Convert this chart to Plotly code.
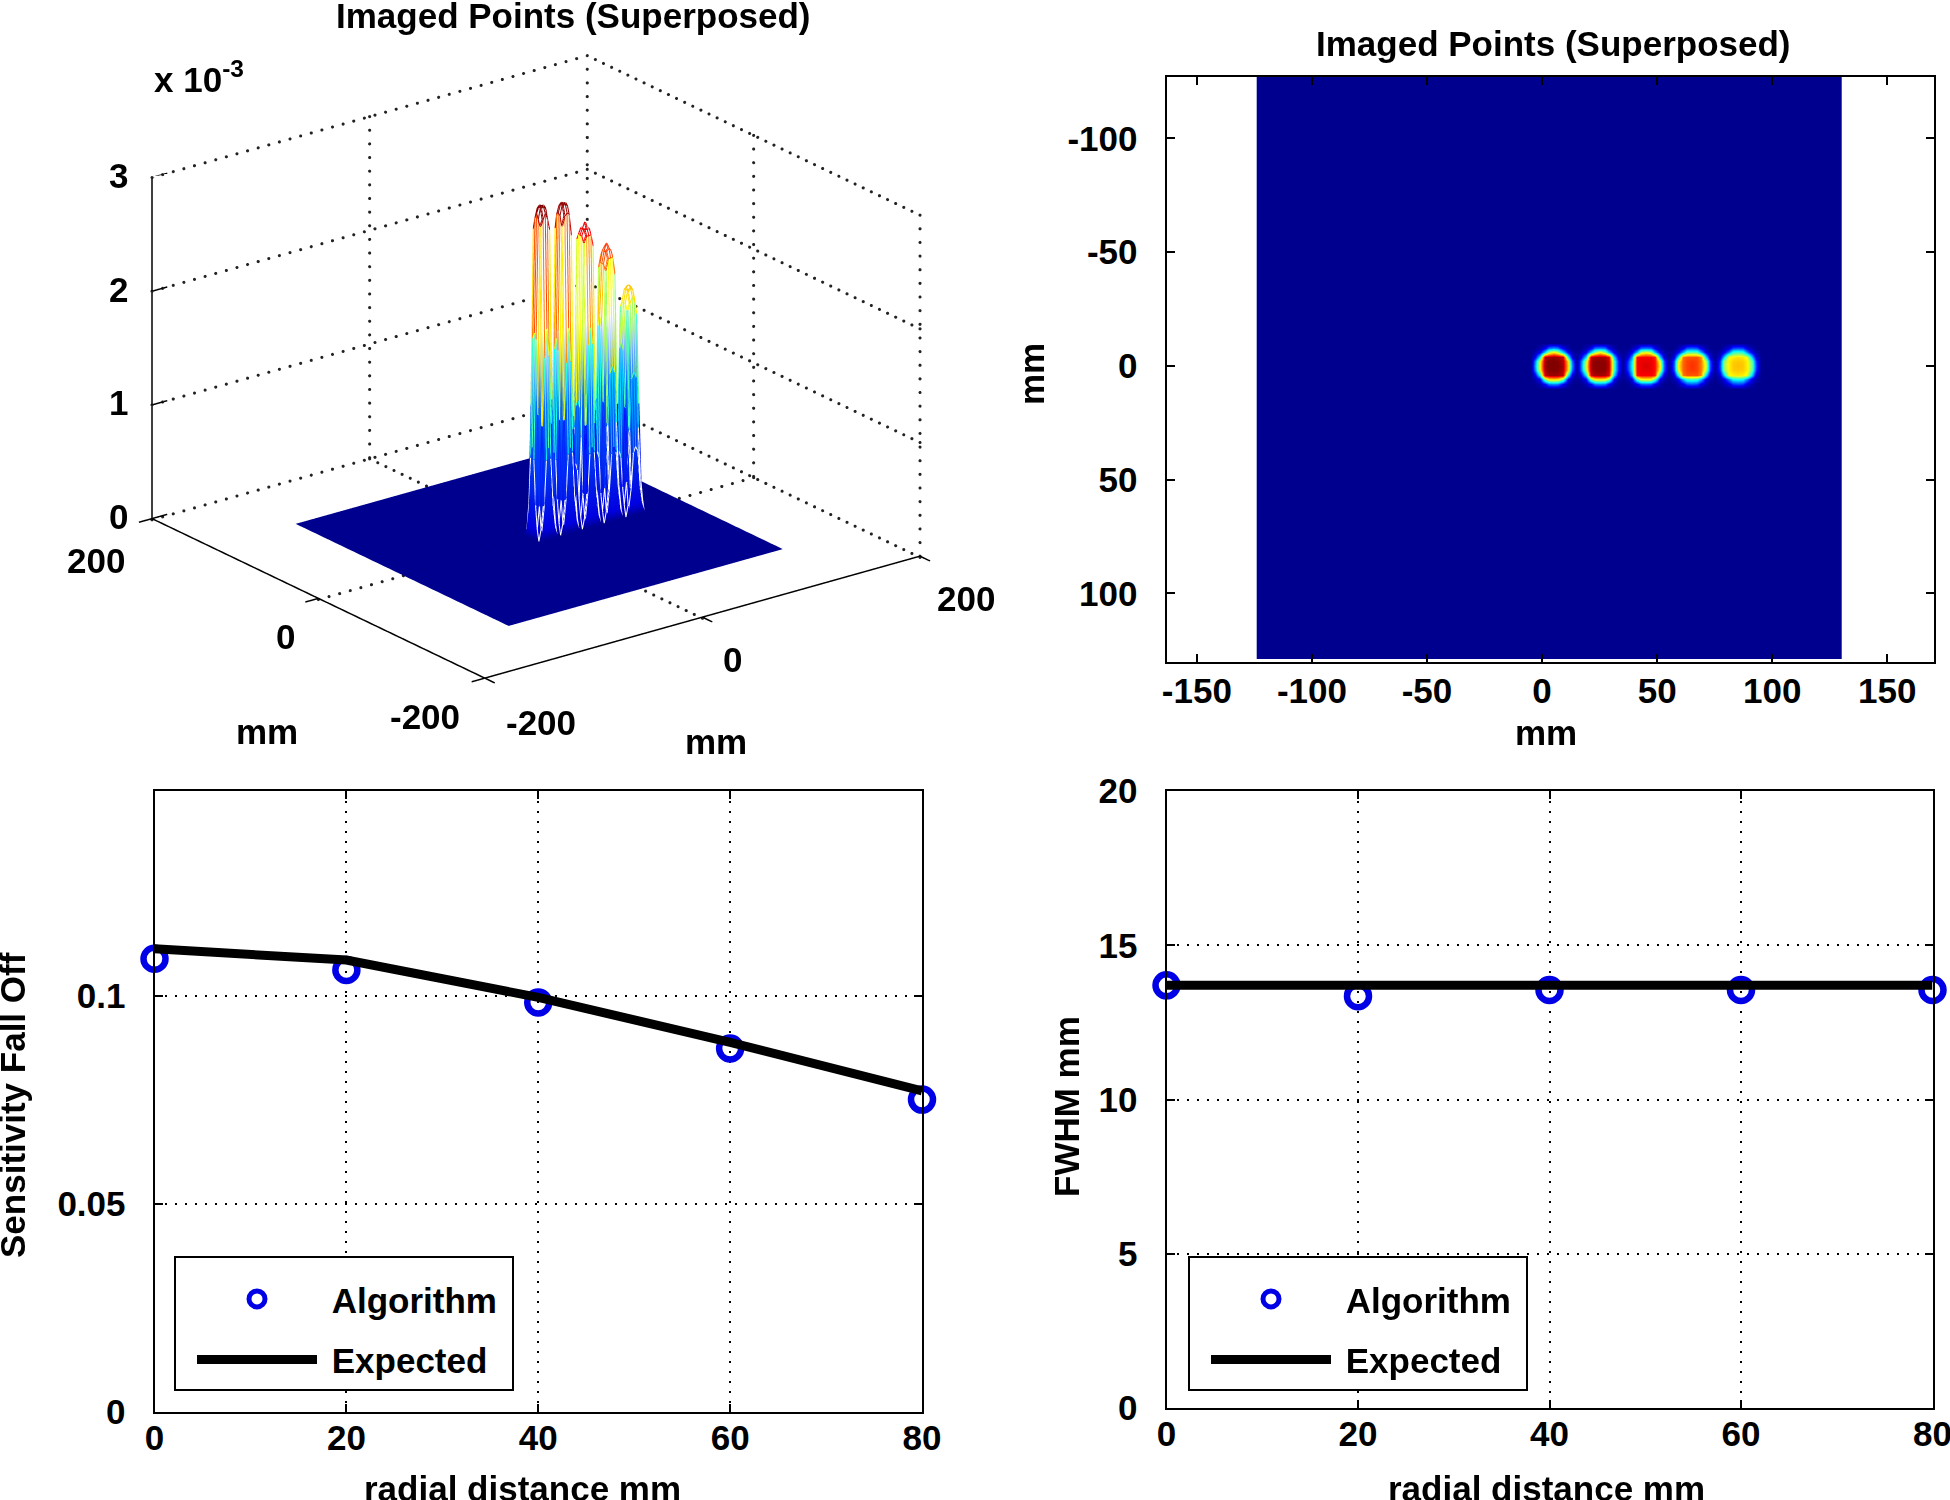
import numpy as np
import plotly.graph_objects as go

W, H = 1960, 1500  # a little wider than the window so the last "80" label is not dropped
FONT = "Liberation Sans"
JET = [[0, "#00008f"], [0.125, "#0000ff"], [0.375, "#00ffff"], [0.5, "#80ff80"],
       [0.625, "#ffff00"], [0.75, "#ff8000"], [0.875, "#ff0000"], [1, "#800000"]]
# mesh edges on the spikes: white low down, jet above
EDGE_SCALE = [[0, "#ffffff"], [0.2, "#ffffff"], [0.2, "#0000ff"], [0.375, "#00ffff"], [0.5, "#80ff80"],
              [0.625, "#ffff00"], [0.75, "#ff8000"], [0.875, "#ff0000"], [1, "#800000"]]
# faces of the spikes: floor blue, then blue rising to white near the top
SKIN_SCALE = [[0, "#00008f"], [0.03, "#0000e0"], [0.4, "#0070ff"], [0.62, "#ffffff"], [1, "#ffffff"]]

# bottom panels
radial = [0, 20, 40, 60, 80]
falloff_algorithm = [0.1090, 0.1063, 0.0985, 0.0874, 0.0751]
falloff_expected = [0.1114, 0.1087, 0.0997, 0.0889, 0.0772]
fwhm_algorithm = [13.7, 13.35, 13.55, 13.55, 13.55]
fwhm_expected = [13.7, 13.7, 13.7, 13.7, 13.7]

# imaged points, values in units of 1e-3, 2 mm cells
spot_x = [5, 25, 45, 65, 85]
spot_1 = [[0.0, 0.1, 0.3, 0.7, 0.8, 0.7, 0.3, 0.1, 0.0],
          [0.1, 0.3, 1.0, 1.6, 1.85, 1.6, 1.0, 0.35, 0.1],
          [0.3, 1.1, 2.75, 2.8, 2.85, 2.8, 2.7, 1.2, 0.3],
          [0.7, 1.75, 2.8, 2.9, 2.9, 2.88, 2.75, 1.9, 0.7],
          [0.8, 1.8, 2.85, 2.9, 2.9, 2.9, 2.8, 1.95, 0.8],
          [0.7, 1.75, 2.8, 2.88, 2.9, 2.88, 2.75, 1.9, 0.7],
          [0.3, 1.15, 2.7, 2.8, 2.82, 2.8, 2.7, 1.2, 0.3],
          [0.1, 0.35, 1.5, 1.9, 1.95, 1.9, 1.5, 0.35, 0.1],
          [0.0, 0.1, 0.35, 0.7, 0.75, 0.7, 0.35, 0.1, 0.0]]
spot_2 = [[0.0, 0.1, 0.3, 0.7, 0.75, 0.7, 0.3, 0.1, 0.0],
          [0.1, 0.3, 1.0, 1.5, 1.8, 1.5, 0.9, 0.3, 0.1],
          [0.3, 1.0, 2.7, 2.78, 2.8, 2.78, 2.6, 1.0, 0.3],
          [0.65, 1.6, 2.78, 2.87, 2.87, 2.85, 2.7, 1.3, 0.5],
          [0.7, 1.7, 2.8, 2.87, 2.87, 2.87, 2.72, 1.3, 0.5],
          [0.65, 1.6, 2.78, 2.85, 2.87, 2.85, 2.7, 1.3, 0.5],
          [0.3, 1.05, 2.65, 2.78, 2.8, 2.78, 2.6, 1.0, 0.3],
          [0.1, 0.35, 1.5, 1.85, 1.9, 1.85, 1.5, 0.35, 0.1],
          [0.0, 0.1, 0.35, 0.7, 0.75, 0.7, 0.35, 0.1, 0.0]]
spot_3 = [[0.0, 0.1, 0.3, 0.65, 0.7, 0.65, 0.3, 0.1, 0.0],
          [0.1, 0.3, 0.9, 1.6, 1.75, 1.6, 0.9, 0.3, 0.1],
          [0.25, 0.8, 2.5, 2.55, 2.55, 2.55, 2.45, 1.0, 0.25],
          [0.5, 1.05, 2.55, 2.6, 2.6, 2.6, 2.5, 1.7, 0.6],
          [0.55, 1.1, 2.55, 2.6, 2.65, 2.6, 2.5, 1.85, 0.65],
          [0.5, 1.05, 2.55, 2.6, 2.6, 2.6, 2.5, 1.7, 0.6],
          [0.25, 0.85, 2.5, 2.55, 2.55, 2.55, 2.45, 1.0, 0.25],
          [0.1, 0.3, 1.35, 1.8, 1.85, 1.8, 1.35, 0.3, 0.1],
          [0.0, 0.1, 0.3, 0.6, 0.65, 0.6, 0.3, 0.1, 0.0]]
spot_4 = [[0.0, 0.1, 0.3, 0.6, 0.65, 0.6, 0.3, 0.1, 0.0],
          [0.1, 0.3, 0.85, 1.3, 1.35, 1.3, 0.85, 0.3, 0.1],
          [0.25, 1.05, 2.2, 2.3, 2.3, 2.3, 2.15, 1.0, 0.25],
          [0.55, 1.7, 2.25, 2.35, 2.38, 2.35, 2.2, 1.6, 0.55],
          [0.6, 1.8, 2.25, 2.35, 2.41, 2.35, 2.2, 1.7, 0.6],
          [0.55, 1.7, 2.25, 2.35, 2.38, 2.35, 2.2, 1.6, 0.55],
          [0.25, 1.05, 2.2, 2.3, 2.3, 2.3, 2.15, 1.0, 0.25],
          [0.1, 0.3, 0.9, 1.25, 1.3, 1.25, 0.9, 0.3, 0.1],
          [0.0, 0.1, 0.3, 0.55, 0.6, 0.55, 0.3, 0.1, 0.0]]
spot_5 = [[0.0, 0.1, 0.25, 0.55, 0.6, 0.55, 0.25, 0.1, 0.0],
          [0.1, 0.3, 0.75, 1.2, 1.25, 1.2, 0.75, 0.3, 0.1],
          [0.25, 0.95, 1.8, 1.85, 1.9, 1.85, 1.75, 0.95, 0.25],
          [0.5, 1.45, 1.85, 1.95, 1.97, 1.95, 1.85, 1.35, 0.5],
          [0.55, 1.5, 1.85, 1.97, 1.99, 1.97, 1.85, 1.4, 0.55],
          [0.5, 1.45, 1.85, 1.95, 1.97, 1.95, 1.85, 1.35, 0.5],
          [0.25, 0.95, 1.8, 1.85, 1.88, 1.85, 1.75, 0.95, 0.25],
          [0.1, 0.3, 0.75, 1.1, 1.15, 1.1, 0.75, 0.3, 0.1],
          [0.0, 0.1, 0.25, 0.5, 0.55, 0.5, 0.25, 0.1, 0.0]]
spots = [spot_1, spot_2, spot_3, spot_4, spot_5]
z_max = 2.9

image_x = list(range(-123, 131, 2))
image_y = list(range(-128, 130, 2))
patch_offset = list(range(-8, 10, 2))

image_z = np.zeros((len(image_y), len(image_x)))
for sx, spot in zip(spot_x, spots):
    col = image_x.index(sx - 8)
    row = image_y.index(-8)
    image_z[row:row + 9, col:col + 9] = spot


def dom_x(a, b):
    return [a / W, b / W]


def dom_y(top, bottom):
    return [1 - bottom / H, 1 - top / H]


fig = go.Figure()

# --- top left, 3d view ---
Z_TICKS = [0, 1, 2, 3]
FLOOR = -0.01  # just under the image so the grid does not fight with it


def line3d(xs, ys, zs, width=3):
    fig.add_trace(go.Scatter3d(x=xs, y=ys, z=zs, mode="lines", showlegend=False, hoverinfo="skip",
                               line=dict(color="black", width=width), scene="scene"))


def dots3d(a, b, n):
    # plotly's gl dash is too fine, so the matlab dotted grid is drawn as markers
    t = np.linspace(0, 1, n)
    fig.add_trace(go.Scatter3d(x=a[0] + t * (b[0] - a[0]), y=a[1] + t * (b[1] - a[1]), z=a[2] + t * (b[2] - a[2]),
                               mode="markers", showlegend=False, hoverinfo="skip", scene="scene",
                               marker=dict(size=1.8, color="#222222", line=dict(width=0))))


# dotted box and grid
for zt in Z_TICKS[1:] + [FLOOR]:
    dots3d((-200, 200, zt), (200, 200, zt), 42)
    dots3d((200, 200, zt), (200, -200, zt), 42)
for v in [0, 200]:
    dots3d((v, 200, 0), (v, 200, 3), 26)
for v in [0, -200]:
    dots3d((200, v, 0), (200, v, 3), 26)
dots3d((0, -200, FLOOR), (0, 200, FLOOR), 42)
dots3d((-200, 0, FLOOR), (200, 0, FLOOR), 42)

# solid axes
line3d([-200, -200], [200, 200], [0, 3])
line3d([-200, -200, 200], [200, -200, -200], [0, 0, 0])
for zt in Z_TICKS:
    line3d([-200, -186], [200, 200], [zt, zt])
for v in [-200, 0, 200]:
    line3d([-212, -200], [v, v], [0, 0])
    line3d([v, v], [-212, -200], [0, 0])

# floor and skin of the spikes
fig.add_trace(go.Surface(x=image_x, y=image_y, z=image_z, cmin=0, cmax=z_max, colorscale=SKIN_SCALE,
                         showscale=False, hoverinfo="skip", scene="scene",
                         lighting=dict(ambient=1, diffuse=0, specular=0, fresnel=0, roughness=1)))


def mesh_line(xs, ys, zs):
    # flat coloured edges like a matlab mesh: each edge takes the mean of its two ends
    px, py, pz, pc = [], [], [], []
    for i in range(len(zs) - 1):
        c = (zs[i] + zs[i + 1]) / 2
        px += [xs[i], xs[i + 1]]
        py += [ys[i], ys[i + 1]]
        pz += [zs[i], zs[i + 1]]
        pc += [c, c]
    fig.add_trace(go.Scatter3d(x=px, y=py, z=pz, mode="lines", showlegend=False, hoverinfo="skip", scene="scene",
                               line=dict(color=pc, colorscale=EDGE_SCALE, cmin=0, cmax=z_max, width=4)))


for sx, spot in zip(spot_x, spots):
    px = [sx + o for o in patch_offset]
    for r, rowvals in enumerate(spot):
        mesh_line(px, [patch_offset[r]] * 9, rowvals)
    for c in range(9):
        mesh_line([px[c]] * 9, patch_offset, [rowvals[c] for rowvals in spot])

el = np.radians(21.5)
az = np.radians(37.4)
dist = 2.5
eye = dict(x=-dist * np.sin(az) * np.cos(el), y=-dist * np.cos(az) * np.cos(el), z=dist * np.sin(el))
hidden = dict(visible=False, showspikes=False)
tick_font = dict(family=FONT, size=35, color="black", weight="bold")


def ann3d(x, y, z, text, dx, dy):
    return dict(x=x, y=y, z=z, text=text, showarrow=False, xshift=dx, yshift=dy, font=tick_font)


fig.update_layout(scene=dict(
    domain=dict(x=dom_x(36, 1036), y=dom_y(8, 728)),
    aspectmode="manual", aspectratio=dict(x=1.636, y=1.636, z=1.025),
    xaxis=dict(range=[-215, 215], **hidden), yaxis=dict(range=[-215, 215], **hidden),
    zaxis=dict(range=[-0.02, 3], **hidden),
    camera=dict(eye=eye, up=dict(x=0, y=0, z=1), center=dict(x=0, y=0, z=0),
                projection=dict(type="orthographic")),
    annotations=[ann3d(-200, 200, zt, str(zt), -34, 2) for zt in Z_TICKS]
    + [ann3d(-200, 200, 0, "200", -56, -42), ann3d(-200, 0, 0, "0", -33, -38),
       ann3d(-200, -200, 0, "-200", -60, -38), ann3d(-200, -200, 0, "-200", 56, -44),
       ann3d(0, -200, 0, "0", 30, -42), ann3d(200, -200, 0, "200", 46, -42)],
))

# --- top right, image ---
fig.add_trace(go.Heatmap(x=image_x, y=image_y, z=image_z, colorscale=JET, zmin=0, zmax=z_max,
                         showscale=False, zsmooth="best", xaxis="x3", yaxis="y3", hoverinfo="skip"))

# --- bottom panels ---
legend_names = ["\u00a0Algorithm\u00a0", "\u00a0Expected\u00a0"]
for xa, ya, leg, alg, exp in [("x", "y", "legend", falloff_algorithm, falloff_expected),
                              ("x2", "y2", "legend2", fwhm_algorithm, fwhm_expected)]:
    fig.add_trace(go.Scatter(x=radial, y=alg, mode="markers", name=legend_names[0], xaxis=xa, yaxis=ya,
                             legend=leg, legendgroup=leg + "a", cliponaxis=False,
                             marker=dict(symbol="circle-open", size=22, color="#0000e6", line=dict(width=6.5))))
    fig.add_trace(go.Scatter(x=radial, y=exp, mode="lines", name=legend_names[1], xaxis=xa, yaxis=ya,
                             legend=leg, legendgroup=leg + "b", cliponaxis=False,
                             line=dict(color="black", width=9)))

axis_style = dict(showline=True, linecolor="black", linewidth=2, mirror="ticks", ticks="inside", ticklen=8,
                  tickcolor="black", tickwidth=1.5, zeroline=False, tickfont=tick_font, automargin=False)
grid_style = dict(showgrid=True, gridcolor="black", gridwidth=1.5, griddash="2px,8px")
x_standoff = -6
y_standoff = 20


def legend_at(x, y):
    return dict(x=x / W, y=1 - y / H, xanchor="left", yanchor="top",
                bgcolor="white", bordercolor="black", borderwidth=2, itemwidth=120, tracegroupgap=12,
                indentation=16, font=tick_font, itemclick=False, itemdoubleclick=False,
                title=dict(text="\u00a0", font=dict(family=FONT, size=9)))


radial_ticks = dict(tickmode="array", tickvals=radial, ticktext=[str(r) for r in radial])
fig.update_layout(
    width=W, height=H, margin=dict(l=0, r=0, t=0, b=0), paper_bgcolor="white", plot_bgcolor="white",
    font=dict(family=FONT), showlegend=True,
    xaxis=dict(domain=dom_x(154.5, 922), range=[0, 80], anchor="y", ticklabelstandoff=x_standoff,
               **radial_ticks, **axis_style, **grid_style),
    yaxis=dict(domain=dom_y(791, 1411.5), range=[0, 0.1494], anchor="x", tickmode="array", ticklabelstandoff=y_standoff,
               tickvals=[0, 0.05, 0.1], ticktext=["0", "0.05", "0.1"], **axis_style, **grid_style),
    xaxis2=dict(domain=dom_x(1166.5, 1932.5), range=[0, 80], anchor="y2", ticklabelstandoff=x_standoff,
                **radial_ticks, **axis_style, **grid_style),
    yaxis2=dict(domain=dom_y(791, 1408), range=[0, 20], anchor="x2", tickmode="array", ticklabelstandoff=y_standoff,
                tickvals=[0, 5, 10, 15, 20], ticktext=["0", "5", "10", "15", "20"], **axis_style, **grid_style),
    xaxis3=dict(domain=dom_x(1166.5, 1934), range=[-163.2, 170.3], anchor="y3", tickmode="array",
                tickvals=[-150, -100, -50, 0, 50, 100, 150], ticklabelstandoff=-3,
                ticktext=["-150", "-100", "-50", "0", "50", "100", "150"], showgrid=False, **axis_style),
    yaxis3=dict(domain=dom_y(77, 661.5), range=[130, -127], anchor="x3", tickmode="array",
                tickvals=[-100, -50, 0, 50, 100], ticklabelstandoff=y_standoff,
                ticktext=["-100", "-50", "0", "50", "100"], showgrid=False, **axis_style),
    legend=legend_at(174, 1256),
    legend2=legend_at(1188, 1256),
)


def note(px, py, text, angle=0):
    fig.add_annotation(x=px / W, y=1 - py / H, xref="paper", yref="paper",
                       text=text, showarrow=False, xanchor="center", yanchor="middle", textangle=angle, font=tick_font)


note(573, 15, "Imaged Points (Superposed)")
note(1553, 44, "Imaged Points (Superposed)")
note(199, 77, "x 10<sup>-3</sup>")
note(267, 731, "mm")
note(716, 742, "mm")
note(1546, 732, "mm")
note(1032, 374, "mm", -90)
note(522, 1488, "radial distance mm")
note(1546, 1488, "radial distance mm")
note(12, 1105, "Sensitivity Fall Off", -90)
note(1066, 1107, "FWHM mm", -90)

# the browser's default body margin would clip the top title and the left label
fig.write_html("out.html", config={"displayModeBar": False},
               post_script="document.body.style.margin = '0'; document.body.style.overflow = 'hidden';")
